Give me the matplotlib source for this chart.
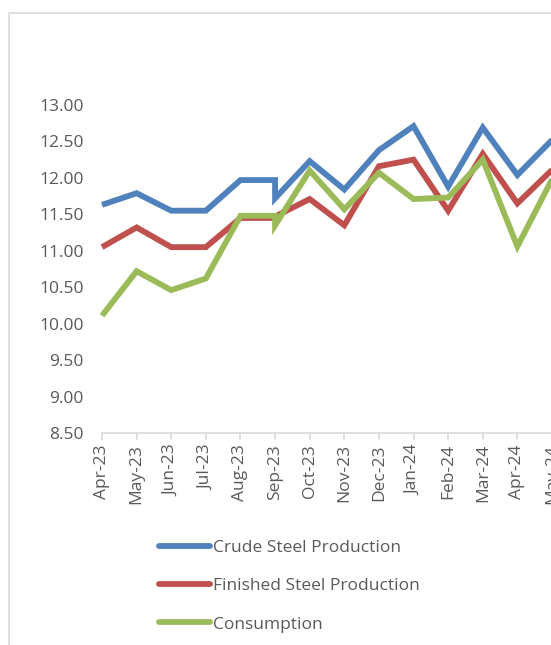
import matplotlib
matplotlib.use("Agg")
import matplotlib.pyplot as plt
from matplotlib.lines import Line2D

months = ["Apr-23", "May-23", "Jun-23", "Jul-23", "Aug-23", "Sep-23", "Sep-23",
          "Oct-23", "Nov-23", "Dec-23", "Jan-24", "Feb-24", "Mar-24", "Apr-24", "May-24"]
crude = [11.63, 11.79, 11.55, 11.55, 11.97, 11.97, 11.72, 12.23, 11.84, 12.38,
         12.71, 11.88, 12.69, 12.04, 12.52]
finished = [11.05, 11.32, 11.05, 11.05, 11.45, 11.45, 11.47, 11.71, 11.35, 12.16,
            12.25, 11.55, 12.33, 11.65, 12.11]
consumption = [10.11, 10.72, 10.46, 10.62, 11.48, 11.48, 11.35, 12.10, 11.57, 12.07,
               11.71, 11.73, 12.25, 11.06, 11.98]
series_names = ["Crude Steel Production", "Finished Steel Production", "Consumption"]
y_ticks = [8.5, 9.0, 9.5, 10.0, 10.5, 11.0, 11.5, 12.0, 12.5, 13.0]

colors = ["#4f81bd", "#c0504d", "#9bbb59"]
text_color = "#595959"
axis_color = "#d9d9d9"

plt.rcParams["font.family"] = ["Open Sans", "DejaVu Sans"]

W, H = 551, 645
fig = plt.figure(figsize=(W / 100, H / 100), dpi=100)
fig.patch.set_facecolor("white")

# chart border (light gray frame, cropped on right/bottom)
fig.add_artist(Line2D([9 / W, 9 / W, 1.0], [0.0, 1 - 13 / H, 1 - 13 / H],
                      transform=fig.transFigure, color=axis_color, lw=1.2))

ax = fig.add_axes([102 / W, (H - 433) / H, 450 / W, 328 / H])

unique = []
for m in months:
    if m not in unique:
        unique.append(m)
pos = {m: i for i, m in enumerate(unique)}
xs = [pos[m] for m in months]

for vals, c, name in zip([crude, finished, consumption], colors, series_names):
    ax.plot(xs, vals, color=c, lw=4.2, label=name, solid_joinstyle="miter",
            solid_capstyle="butt", clip_on=False)

ax.set_xlim(0, len(unique) - 1)
ax.set_ylim(8.5, 13.0)
ax.set_yticks(y_ticks)
ax.set_yticklabels([f"{v:.2f}" for v in y_ticks])
ax.set_xticks(range(len(unique)))
ax.set_xticklabels(unique, rotation=90)

for s in ["top", "right", "left"]:
    ax.spines[s].set_visible(False)
ax.spines["bottom"].set_color(axis_color)
ax.spines["bottom"].set_linewidth(1.2)

ax.tick_params(axis="y", length=0, pad=13, labelsize=12.5, labelcolor=text_color)
ax.tick_params(axis="x", direction="out", length=5, width=1.2, color=axis_color,
               pad=3, labelsize=12.5, labelcolor=text_color)

handles = [Line2D([0], [0], color=c, lw=4.2, solid_capstyle="round") for c in colors]
leg = fig.legend(handles, series_names, loc="upper left",
                 bbox_to_anchor=(159 / W, 1 - 540 / H), frameon=False,
                 fontsize=12.5, handlelength=2.95, handletextpad=0.15,
                 labelspacing=1.27, borderaxespad=0, borderpad=0)
for t in leg.get_texts():
    t.set_color(text_color)

fig.savefig("out.png", dpi=100, facecolor="white")
